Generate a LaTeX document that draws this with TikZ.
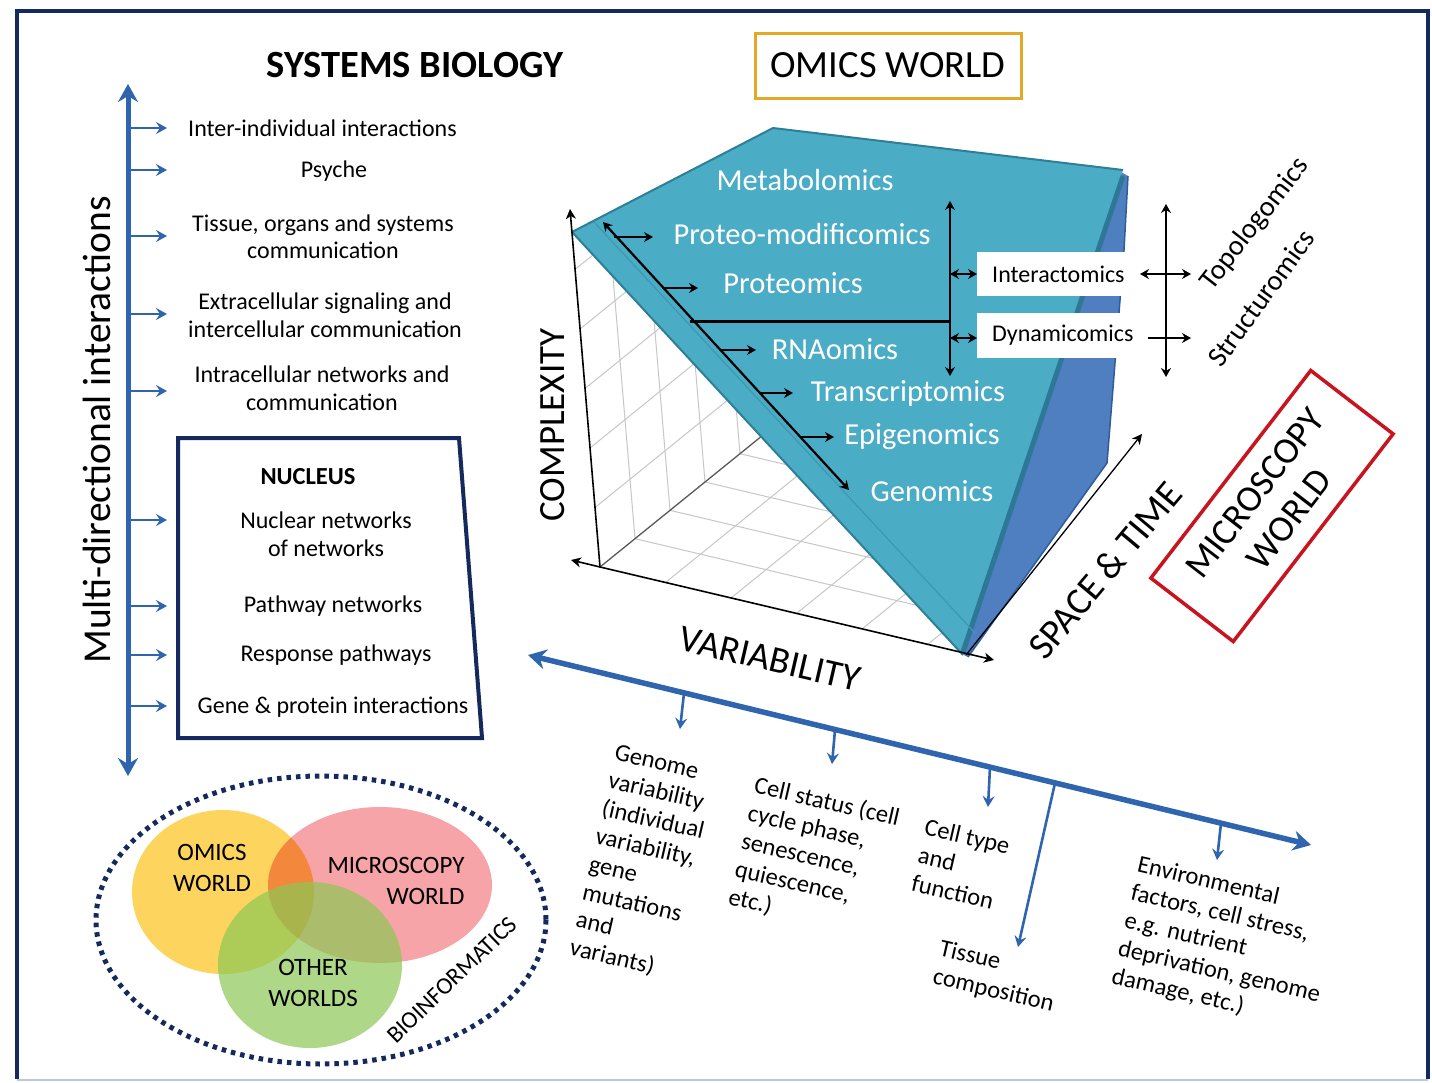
\documentclass[tikz,border=0pt]{standalone}
\usepackage{fontspec}
\setmainfont{Carlito}
\usetikzlibrary{arrows.meta,calc}
\definecolor{navy}{HTML}{142A5C}
\definecolor{axisblue}{HTML}{2F65AE}
\definecolor{cyanface}{HTML}{4BACC6}
\definecolor{cyanedge}{HTML}{2E7F96}
\definecolor{sideblue}{HTML}{4F7FC0}
\definecolor{sideedge}{HTML}{2F5C9A}
\definecolor{omicsorange}{HTML}{E3A825}
\definecolor{micred}{HTML}{C8141E}
\definecolor{vyellow}{HTML}{FCD45E}
\definecolor{vpink}{HTML}{F6A4A8}
\definecolor{vgreen}{RGB}{140,200,85}
\tikzset{
 ltxt/.style={font=\fontsize{24}{27.5}\selectfont, align=center, inner sep=1pt},
 ctxt/.style={text=white, font=\fontsize{30.5}{32}\selectfont, inner sep=1pt},
 btxt/.style={font=\fontsize{24.5}{28.6}\selectfont, align=left, rotate=-13, anchor=north west, inner sep=0pt},
 vtxt/.style={font=\fontsize{25}{31}\selectfont, align=center, inner sep=0pt},
 bluearr/.style={axisblue, line width=2.6pt, arrows={-Stealth[length=11pt,width=12pt,inset=4pt]}},
 bigblue/.style={axisblue, line width=5pt, arrows={Stealth[length=18pt,width=20pt,inset=6pt]-Stealth[length=18pt,width=20pt,inset=6pt]}},
 blkdbl/.style={black, line width=2.2pt, arrows={Stealth[length=9pt,width=10pt,inset=3pt]-Stealth[length=9pt,width=10pt,inset=3pt]}},
 blkone/.style={black, line width=2.2pt, arrows={-Stealth[length=9pt,width=10pt,inset=3pt]}},
 axisarr/.style={black, line width=1.6pt, arrows={-Stealth[length=10pt,width=10pt,inset=3pt]}},
 gridline/.style={black!22, line width=1pt},
 wbox/.style={fill=white, inner xsep=15pt, inner ysep=0pt, minimum height=44pt, anchor=west, font=\fontsize{24}{26}\selectfont},
}
\begin{document}
\begin{tikzpicture}[x=1pt,y=-1pt]
\useasboundingbox (0,0) rectangle (1432,1082);
\fill[white] (0,0) rectangle (1432,1082);
% frame
\draw[navy, line width=4pt] (17,1079) -- (17,11) -- (1428,11) -- (1428,1079);
\draw[axisblue!35, line width=2pt] (17,1080) -- (1428,1080);

% titles
\node[font=\bfseries\fontsize{38.5}{40}\selectfont] (title) at (415,65) {SYSTEMS BIOLOGY};
\node[draw=omicsorange, line width=3pt, minimum width=266pt, minimum height=65pt, inner sep=0pt, font=\fontsize{38.5}{40}\selectfont] (omics) at (888,65.5) {OMICS WORLD};

% left vertical axis
\coordinate (vtop) at (128,84);
\coordinate (vbot) at (128,776);
\draw[bigblue] (vbot) -- (vtop);
\node[rotate=90, font=\fontsize{39.5}{40}\selectfont] (multi) at (97,430) {Multi-directional interactions};

% left items
\node[ltxt] (l1) at (322.5,128) {Inter-individual interactions};
\node[ltxt] (l2) at (334,171) {Psyche};
\node[ltxt] (l3) at (323,237) {Tissue, organs and systems\\communication};
\node[ltxt] (l4) at (325,315) {Extracellular signaling and\\intercellular communication};
\node[ltxt] (l5) at (322,388) {Intracellular networks and\\communication};
\node[font=\bfseries\fontsize{24.5}{26}\selectfont] (nuc) at (308,477) {NUCLEUS};
\node[ltxt] (l6) at (326,534) {Nuclear networks\\of networks};
\node[ltxt] (l7) at (333,606) {Pathway networks};
\node[ltxt] (l8) at (336,655) {Response pathways};
\node[ltxt] (l9) at (333,707) {Gene \& protein interactions};
\foreach \yy/\nm in {128/a1,170/a2,236/a3,314/a4,391/a5,520/a6,606/a7,655/a8,706/a9}{
  \coordinate (\nm s) at (131,\yy);
  \coordinate (\nm e) at (167,\yy);
  \draw[bluearr] (\nm s) -- (\nm e);
}
% nucleus box
\draw[navy, line width=4pt, line join=miter] (178,438) -- (459,438) -- (482,738) -- (178,738) -- cycle;

% ---------- cube -----------
\begin{scope}
\clip (600,567) -- (571,222) -- (966,660) -- cycle;
\foreach \i in {1,...,6}{
  \draw[gridline] ({600+35*\i},{567-28.33*\i}) -- ++(520,123);
  \draw[gridline] ({600+65.5*\i},{567+15.5*\i}) -- ++(315,-255);
  \draw[gridline] ({600+35*\i},{567-28.33*\i}) -- ++(-33,-393);
  \draw[gridline] ({600-5*\i},{567-59.5*\i}) -- ++(315,-255);
}
\draw[black!65, line width=1.3pt] (600,567) -- ++(210,-170);
\end{scope}

% blue side face
\fill[sideblue] (1121,172) -- (1128,176) -- (1124,250) -- (1107,463) -- (968,657) -- (962,654) -- cycle;
\draw[sideedge, line width=1.5pt, line join=round] (1128,176) -- (1124,250) -- (1107,463) -- (968,657);
% cyan face
\fill[cyanface] (572,232) -- (773,128) -- (1123,170) -- (963,655) -- cycle;
\draw[cyanedge, line width=2pt, line join=round] (963,655) -- (572,232) -- (773,128) -- (1123,170);
\draw[cyanedge!80!sideedge, line width=5pt] (1123,176) -- (963,652);
\draw[cyanedge!45!cyanface, line width=1.2pt] (594,222) -- (975,633);

% cube inner arrows
\coordinate (dgs) at (603,222);
\coordinate (dge) at (849,490);
\draw[blkdbl] (dgs) -- (dge);
\coordinate (hls) at (690,321);
\coordinate (hle) at (949,321);
\draw[black, line width=3pt] (hls) -- (hle);
\coordinate (vls) at (950,201);
\coordinate (vle) at (950,376);
\draw[blkdbl] (vls) -- (vle);

\node[ctxt] (met) at (805,180) {Metabolomics};
\node[ctxt] (pmod) at (802,234) {Proteo-modificomics};
\node[ctxt] (prot) at (793,283) {Proteomics};
\node[ctxt] (rna) at (835,349) {RNAomics};
\node[ctxt] (trans) at (908,393) {Transcriptomics};
\node[ctxt] (epi) at (922,437) {Epigenomics};
\node[ctxt] (gen) at (932,491) {Genomics};

\foreach \yy/\xa/\xb/\nm in {237/614/653/c1,288/662/698/c2,350/721/756/c3,393/760/793/c4,437/800/834/c5}{
  \coordinate (\nm s) at (\xa,\yy);
  \coordinate (\nm e) at (\xb,\yy);
  \draw[blkone] (\nm s) -- (\nm e);
}

% white boxes
\node[wbox] (inter) at (977,274) {Interactomics};
\node[wbox, minimum height=45pt] (dyna) at (977,335) {Dynamicomics};
\coordinate (i1) at (950,274);
\coordinate (d1) at (950,338);
\draw[blkdbl] (i1) -- (inter.west);
\draw[blkdbl] (d1) -- (dyna.west |- d1);
\coordinate (ir1) at (1140,274);
\coordinate (ir2) at (1191,274);
\draw[blkdbl] (ir1) -- (ir2);
\coordinate (dr1) at (1148,338);
\coordinate (dr2) at (1191,338);
\draw[blkone] (dr1) -- (dr2);
\coordinate (rv1) at (1166,204);
\coordinate (rv2) at (1166,377);
\draw[blkdbl] (rv1) -- (rv2);
\node[rotate=52, font=\fontsize{28.5}{30}\selectfont] (topo) at (1255,224) {Topologomics};
\node[rotate=54, font=\fontsize{28.5}{30}\selectfont] (struct) at (1261,298) {Structuromics};

% axes
\coordinate (O) at (600,567);
\coordinate (cax) at (570,209);
\coordinate (bax) at (571,560);
\coordinate (vax) at (994,660);
\coordinate (sax) at (1142,434);
\coordinate (s0) at (966,655);
\draw[axisarr] (O) -- (cax);
\draw[axisarr] (O) -- (bax);
\draw[axisarr] (O) -- (vax);
\draw[axisarr, line width=1.3pt] (s0) -- (sax);

\node[rotate=90, font=\fontsize{37}{38}\selectfont] (cplx) at (553,425) {COMPLEXITY};
\node[rotate=-13, font=\fontsize{37.5}{38}\selectfont] (varb) at (770,659) {VARIABILITY};
\node[rotate=50, font=\fontsize{38}{38}\selectfont] (spt) at (1105,570) {SPACE \& TIME};
\node[draw=micred, line width=3.5pt, rotate=52.4, minimum width=262pt, minimum height=104pt, inner sep=0pt, align=center, font=\fontsize{37}{43}\selectfont] (micro) at (1272,506) {MICROSCOPY\\WORLD};

% bottom blue axis
\coordinate (bl) at (528,655);
\coordinate (br) at (1311,845);
\draw[bigblue, line width=5.5pt] (bl) -- (br);
\foreach \xa/\ya/\xb/\yb/\nm in {684/693/680/729/b1, 835/730/832/764/b2, 990/767/988/807/b3, 1055/783/1018/947/b4, 1221/823/1217/860/b5}{
  \coordinate (\nm s) at (\xa,\ya);
  \coordinate (\nm e) at (\xb,\yb);
  \draw[bluearr] (\nm s) -- (\nm e);
}
\node[btxt] (t1) at (617,744) {Genome\\variability\\(individual\\variability,\\gene\\mutations\\and\\variants)};
\node[btxt] (t2) at (757,775) {Cell status (cell\\cycle phase,\\senescence,\\quiescence,\\etc.)};
\node[btxt] (t3) at (927,818) {Cell type\\and\\function};
\node[btxt] (t4) at (942,939) {Tissue\\composition};
\node[btxt] (t5) at (1140,855) {Environmental\\factors, cell stress,\\e.g. nutrient\\deprivation, genome\\damage, etc.)};

% Venn
\begin{scope}[blend mode=multiply]
\fill[vyellow] (223,892) ellipse [x radius=91, y radius=82];
\fill[vpink] (380,885) ellipse [x radius=112, y radius=78];
\end{scope}
\fill[vgreen, opacity=0.7] (310,965) ellipse [x radius=92, y radius=83];
\draw[navy, line width=5pt, dash pattern=on 4.5pt off 5pt] (321,920) ellipse [x radius=225, y radius=144];
\node[vtxt] (vo) at (212,868) {OMICS\\WORLD};
\node[vtxt, align=right] (vm) at (396,881) {MICROSCOPY\\WORLD};
\node[vtxt] (vg) at (313,983) {OTHER\\WORLDS};
\node[rotate=44, font=\fontsize{24}{26}\selectfont] (bio) at (452,980) {BIOINFORMATICS};
\end{tikzpicture}
\end{document}
